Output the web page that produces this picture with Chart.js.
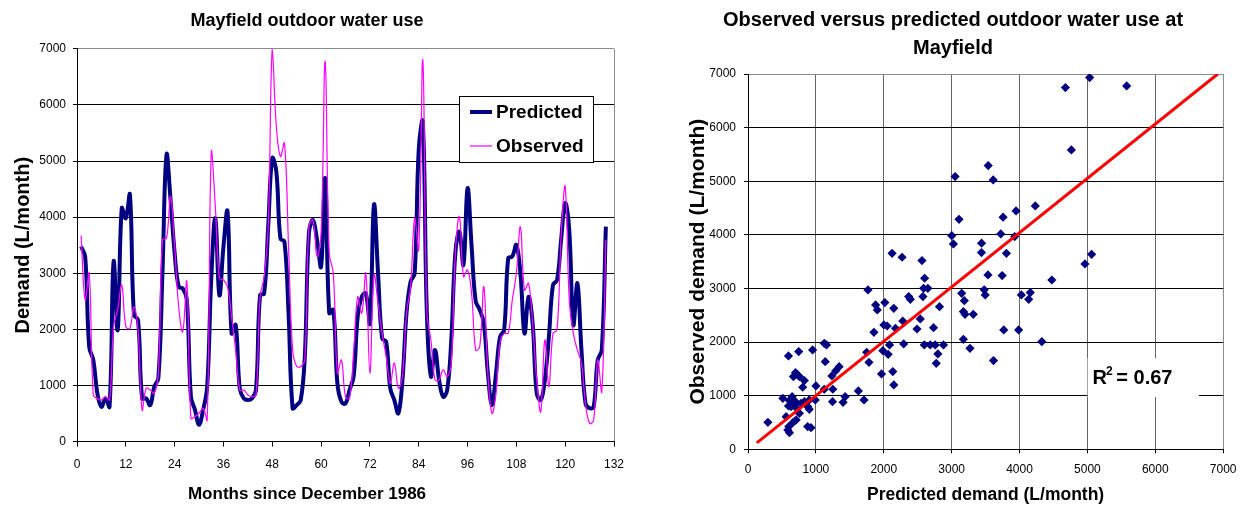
<!DOCTYPE html>
<html><head><meta charset="utf-8">
<script src="https://cdn.jsdelivr.net/npm/chart.js@4.4.0/dist/chart.umd.min.js"></script>
<style>
html,body{margin:0;padding:0;background:#fff;width:1246px;height:507px;overflow:hidden;}
#c1{position:absolute;left:0;top:0;}
#c2{position:absolute;left:640px;top:0;}
</style></head><body>
<canvas id="c1" width="640" height="507"></canvas>
<canvas id="c2" width="606" height="507"></canvas>
<script>
// ---- Left chart data: monthly outdoor water use (L/month) ----
const months = [
  1,2,3,4,5,6,7,8,9,10, 11,12,13,14,15,16,17,18,19,20,
  21,22,23,24,25,26,27,28,29,30, 31,32,33,34,35,36,37,38,39,40,
  41,42,43,44,45,46,47,48,49,50, 51,52,53,54,55,56,57,58,59,60,
  61,62,63,64,65,66,67,68,69,70, 71,72,73,74,75,76,77,78,79,80,
  81,82,83,84,85,86,87,88,89,90, 91,92,93,94,95,96,97,98,99,100,
  101,102,103,104,105,106,107,108,109,110, 111,112,113,114,115,116,117,118,119,120,
  121,122,123,124,125,126,127,128,129,130
];
const predicted = [
  3475,3300,1690,1455,860,620,770,620,3210,1990,
  4160,3980,4400,2260,2170,770,770,650,980,1130,
  3000,5110,4310,3360,2760,2730,2525,800,565,300,
  565,980,2900,3980,2610,3475,4100,1930,2080,950,
  770,740,770,920,2610,2640,3830,5050,4810,3620,
  3560,2290,595,650,740,1515,3710,3950,3595,3120,
  4690,2290,2350,1040,710,680,920,1160,2230,2580,
  2640,2110,4220,3000,1840,1780,950,740,505,1100,
  2290,2850,3000,5200,5700,2290,1160,1630,1100,800,
  920,1810,3360,3740,3150,4515,3475,2500,2350,2110,
  1220,650,1220,1870,1990,3270,3300,3505,3000,1930,
  2580,2110,860,740,1100,1870,2790,2880,3595,4250,
  3770,2080,2820,1630,680,595,620,1455,1630,3830
];
const observed = [
  3670,2525,3000,830,770,740,800,740,2050,2350,
  2790,2050,2020,2400,1990,565,950,920,860,1220,
  3600,3620,4370,3475,2400,1960,2850,415,445,505,
  595,385,5140,4190,2910,2880,2760,2230,1630,920,
  920,830,800,830,2580,2940,3830,7000,5615,5080,
  5320,3475,1630,1340,1340,1455,3830,3950,3300,3710,
  6775,3360,3000,1220,1455,800,770,1600,2580,2290,
  3000,1220,2970,2465,1930,1515,1040,1400,950,1160,
  2290,2760,3980,3420,6800,2290,1810,1100,1100,1280,
  1160,1400,3360,4010,2940,3060,2640,1630,1690,2760,
  1220,505,860,1780,1930,1930,2525,3000,3830,2700,
  2820,2110,1100,535,1810,980,1930,1990,3650,4545,
  2525,1930,1630,1400,680,325,385,1455,890,3595
];
const monthTicks = [0,12,24,36,48,60,72,84,96,108,120,132];
const demandTicks = [0,1000,2000,3000,4000,5000,6000,7000];

// ---- Right chart data: predicted (x) vs observed (y) demand ----
const scatterPredicted = [
  2123,2270,2563,3440,3535,2602,2587,2650,2577,1767,
  2367,2392,2016,1880,1905,2148,2821,3148,3187,3173,
  3197,3319,3480,3495,2538,2280,2002,2051,2173,2490,
  2733,1855,3173,3270,2597,2685,2758,2880,2294,2085,
  1987,2065,2797,2773,1748,1782,1967,2133,2148,1123,
  1157,1138,952,747,596,1343,1294,1236,830,699,
  733,669,757,806,1001,1123,1250,1626,1709,1431,
  1401,1245,991,903,830,781,879,903,650,611,
  513,684,596,718,562,757,709,660,601,587,
  611,879,928,293,635,699,
  3807,3744,4027,4159,4135,4476,4964,5062,3768,3987,4329,3617,
  4676,5033,5579,4764,3539,3612,4232,3949,3758,3724,3929,3441,
  3051,3109,3002,3026
];
const scatterObserved = [
  3656,3582,3520,3669,3252,3190,3003,3003,2848,2972,
  2848,2798,2736,2692,2599,2630,2661,2910,2773,2568,
  2518,2518,2975,2879,2431,2393,2319,2300,2257,2244,
  2269,2182,2052,1884,1946,1946,1946,1946,1965,1946,
  1840,1772,1778,1604,1809,1623,1405,1449,1200,1977,
  1946,1635,1853,1822,1741,1542,1467,1368,1281,1430,
  1387,1356,1356,1157,1182,1120,1120,1088,920,982,
  877,889,920,920,889,858,796,746,982,907,
  951,858,808,765,609,671,547,497,423,360,
  311,423,404,503,796,889,
  3656,3240,2879,2923,2798,3158,3457,3637,2226,2226,2008,1654,
  6747,6933,6778,5584,5292,5025,4540,4447,4329,4018,3968,3844,
  5086,4290,3985,3830
];
const trendX = [130, 6920];
const trendY = [120, 7000];
const scatterTicks = [0,1000,2000,3000,4000,5000,6000,7000];
const r2Text = ['R', '2', ' = 0.67'];

// ---- styling / plumbing ----
const FAMILY = '"Liberation Sans", Arial, Helvetica, sans-serif';
Chart.defaults.font.family = FAMILY;
Chart.defaults.color = '#000';
const GRAYBORDER = '#8c8c8c';
const setTicks = arr => s => { s.ticks = arr.map(v => ({value: v})); };

const boxLegend = {
  id: 'boxLegend',
  afterDatasetsDraw(chart) {
    const {ctx, chartArea: a} = chart;
    const x0 = Math.round(a.right - 155), y0 = Math.round(a.top + 47), w = 134, h = 66;
    ctx.save();
    ctx.fillStyle = '#fff';
    ctx.fillRect(x0, y0, w, h);
    ctx.strokeStyle = '#000'; ctx.lineWidth = 1;
    ctx.strokeRect(x0 + 0.5, y0 + 0.5, w, h);
    ctx.font = 'bold 19px ' + FAMILY;
    ctx.textBaseline = 'middle'; ctx.textAlign = 'left';
    chart.data.datasets.forEach((ds, i) => {
      const cy = y0 + 16 + i * 34;
      ctx.strokeStyle = ds.borderColor; ctx.lineWidth = ds.borderWidth;
      ctx.beginPath(); ctx.moveTo(x0 + 11, cy); ctx.lineTo(x0 + 33, cy); ctx.stroke();
      ctx.fillStyle = '#000';
      ctx.fillText(ds.label, x0 + 37, cy + 1);
    });
    ctx.restore();
  }
};

const r2Label = {
  id: 'r2Label',
  beforeDatasetsDraw(chart) {
    const {ctx, scales: {x, y}} = chart;
    const l = x.getPixelForValue(5003), r = x.getPixelForValue(6642);
    const t = y.getPixelForValue(1703), b = y.getPixelForValue(976);
    ctx.save();
    ctx.fillStyle = '#fff';
    ctx.fillRect(l, t, r - l, b - t);
    const tx = x.getPixelForValue(5077), ty = y.getPixelForValue(1330);
    ctx.fillStyle = '#000'; ctx.textBaseline = 'middle'; ctx.textAlign = 'left';
    ctx.font = 'bold 20px ' + FAMILY;
    ctx.fillText(r2Text[0], tx, ty);
    const w1 = ctx.measureText(r2Text[0]).width;
    ctx.font = 'bold 12px ' + FAMILY;
    ctx.fillText(r2Text[1], tx + w1 - 1, ty - 6);
    const w2 = ctx.measureText(r2Text[1]).width;
    ctx.font = 'bold 20px ' + FAMILY;
    ctx.fillText(r2Text[2], tx + w1 + w2 - 3, ty);
    ctx.restore();
  }
};

// ---- Left chart ----
new Chart(document.getElementById('c1'), {
  type: 'line',
  data: {
    datasets: [
      {label: 'Predicted', data: months.map((m, i) => ({x: m, y: predicted[i]})),
       borderColor: '#000080', borderWidth: 4, pointRadius: 0, tension: 0.4, fill: false, order: 1},
      {label: 'Observed', data: months.map((m, i) => ({x: m, y: observed[i]})),
       borderColor: '#FF00FF', borderWidth: 1.2, pointRadius: 0, tension: 0.4, fill: false, order: 0}
    ]
  },
  options: {
    responsive: false, animation: false, devicePixelRatio: 1,
    layout: {padding: {left: 0, right: 26, top: 0, bottom: 0}},
    plugins: {
      legend: {display: false}, tooltip: {enabled: false},
      title: {display: true, text: 'Mayfield outdoor water use', color: '#000',
              font: {size: 18, weight: 'bold'}, padding: {top: 10, bottom: 17.2}},
      subtitle: {display: true, position: 'bottom', text: 'Months since December 1986', color: '#000',
              font: {size: 17, weight: 'bold'}, padding: {top: 8, bottom: 2}}
    },
    scales: {
      x: {
        type: 'linear', min: 0, max: 132,
        afterBuildTicks: setTicks(monthTicks),
        afterFit: s => { s.height = 35; },
        grid: {color: c => (c.tick && c.tick.value === 132) ? GRAYBORDER : 'rgba(0,0,0,0)',
               tickColor: '#000', tickLength: 5, lineWidth: 1},
        border: {color: '#000', width: 1},
        ticks: {padding: 11, font: {size: 12}, color: '#000', maxRotation: 0, autoSkip: false,
                callback: v => String(v)}
      },
      y: {
        min: 0, max: 7000,
        afterBuildTicks: setTicks(demandTicks),
        afterFit: s => { s.width = 77; },
        grid: {color: c => (c.tick && c.tick.value === 7000) ? GRAYBORDER : '#000',
               tickColor: '#000', tickLength: 4, lineWidth: 1},
        border: {color: '#000', width: 1},
        ticks: {padding: 7, font: {size: 12}, color: '#000', callback: v => String(v)},
        title: {display: true, text: 'Demand (L/month)', color: '#000',
                font: {size: 20, weight: 'bold'}, padding: {top: 11, bottom: 0}}
      }
    }
  },
  plugins: [boxLegend]
});

// ---- Right chart ----
new Chart(document.getElementById('c2'), {
  type: 'scatter',
  data: {
    datasets: [
      {type: 'line', label: 'Linear trend', data: trendX.map((x, i) => ({x: x, y: trendY[i]})),
       borderColor: '#FF0000', borderWidth: 3, pointRadius: 0, fill: false, order: 0},
      {type: 'scatter', label: 'Observed vs predicted',
       data: scatterPredicted.map((x, i) => ({x: x, y: scatterObserved[i]})),
       pointStyle: 'rectRot', pointRadius: 4.6, backgroundColor: '#000080', borderColor: '#000080',
       borderWidth: 0, order: 1}
    ]
  },
  options: {
    responsive: false, animation: false, devicePixelRatio: 1,
    layout: {padding: {left: 40, right: 20, top: 0, bottom: 0}},
    plugins: {
      legend: {display: false}, tooltip: {enabled: false},
      title: {display: true, text: ['Observed versus predicted outdoor water use at', 'Mayfield'],
              color: '#000', font: {size: 20, weight: 'bold', lineHeight: 1.4}, padding: {top: 6, bottom: 12}}
    },
    scales: {
      x: {
        type: 'linear', min: 0, max: 7000,
        afterBuildTicks: setTicks(scatterTicks),
        afterFit: s => { s.height = 57.7; },
        grid: {color: c => (c.tick && c.tick.value === 7000) ? GRAYBORDER : '#666',
               tickColor: '#000', tickLength: 4, lineWidth: 1},
        border: {color: '#000', width: 1},
        ticks: {padding: 9.5, font: {size: 12}, color: '#000', maxRotation: 0, autoSkip: false,
                callback: v => String(v)},
        title: {display: true, text: 'Predicted demand (L/month)', color: '#000',
                font: {size: 17.5, weight: 'bold'}, padding: {top: 0, bottom: 1.5}}
      },
      y: {
        min: 0, max: 7000,
        afterBuildTicks: setTicks(scatterTicks),
        afterFit: s => { s.width = 68; },
        grid: {color: c => (c.tick && c.tick.value === 7000) ? GRAYBORDER : '#000',
               tickColor: '#000', tickLength: 4, lineWidth: 1},
        border: {color: '#000', width: 1},
        ticks: {padding: 8, font: {size: 12}, color: '#000', callback: v => String(v)},
        title: {display: true, text: 'Observed demand (L/month)', color: '#000',
                font: {size: 21, weight: 'bold'}, padding: {top: 5.4, bottom: 0}}
      }
    }
  },
  plugins: [r2Label]
});
</script>
</body></html>
